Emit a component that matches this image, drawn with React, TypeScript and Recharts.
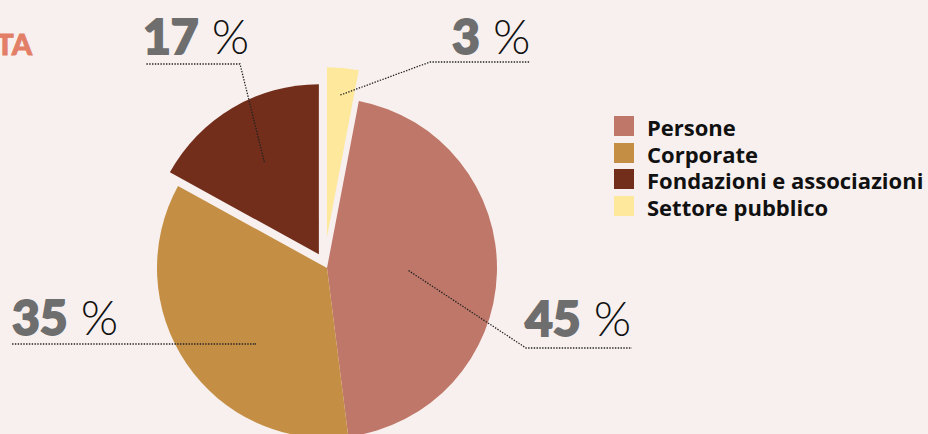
import { Cell, Legend, Pie, PieChart } from 'recharts';

// Ripartizione della raccolta per tipologia di donatore (%).
// Ordine delle fette in senso orario dalle ore 12.
const categories = ['Settore pubblico', 'Persone', 'Corporate', 'Fondazioni e associazioni'];
const shares = [3, 45, 35, 17];
const colors = ['#fde89c', '#bf7769', '#c48f45', '#722e1b'];
const legendOrder = ['Persone', 'Corporate', 'Fondazioni e associazioni', 'Settore pubblico'];

// quanto ogni fetta è staccata dal centro (px), più un piccolo aggiustamento orizzontale
const explode = [31, 0, 0, 16];
const nudgeX = [-3, 0, 0, 0];

// posizione delle etichette: ancora in coordinate polari della fetta, poi gomito e fine della linea
const labelLayout = [
  { r: 0.84, turn: 0, elbow: [430, 62], end: 530, tx: 452, ty: 54 },
  { r: 0.48, turn: 0, elbow: [526, 348], end: 632, tx: 525, ty: 336 },
  { r: 0.616, turn: 12.3, elbow: [256, 344], end: 11, tx: 12, ty: 335 },
  { r: 0.63, turn: 0, elbow: [240, 64], end: 145, tx: 143, ty: 54 },
];

const BG = '#f8f0ee';
const GREY = '#6e6e6e';
const CX = 327;
const CY = 268;
const R = 170;
const RAD = Math.PI / 180;

const data = categories.map((name, i) => ({ name, value: shares[i] }));
const total = shares.reduce((a, b) => a + b, 0);

function midAngleOf(i: number) {
  const before = shares.slice(0, i).reduce((a, b) => a + b, 0);
  return 90 - (360 * (before + shares[i] / 2)) / total;
}

function renderLabel(only: number) {
  return (props: any) => {
    const { cx, cy, midAngle, outerRadius, index, value } = props;
    if (index !== only) return null;
    const L = labelLayout[index];
    const a = (midAngle + L.turn) * RAD;
    const ax = cx + outerRadius * L.r * Math.cos(a);
    const ay = cy - outerRadius * L.r * Math.sin(a);
    const pts = `${ax},${ay} ${L.elbow[0]},${L.elbow[1]} ${L.end},${L.elbow[1]}`;
    return (
      <g>
        <polyline
          points={pts}
          fill="none"
          stroke="#222"
          strokeWidth={1.3}
          strokeDasharray="1.4 1.4"
        />
        <text x={L.tx} y={L.ty} fontSize={48} fontFamily="Lato, sans-serif">
          {/* cifre molto nere: bold + contorno dello stesso grigio */}
          <tspan fontWeight={900} fill={GREY} stroke={GREY} strokeWidth={1.8}>
            {value}
          </tspan>
          <tspan fontWeight={300} fill="#111">
            {' %'}
          </tspan>
        </text>
      </g>
    );
  };
}

function LegendBox() {
  return (
    <div style={{ fontFamily: "'Open Sans', sans-serif" }}>
      {legendOrder.map((name) => (
        <div key={name} style={{ position: 'relative', height: 26.5 }}>
          <div
            style={{
              position: 'absolute',
              left: 0,
              top: 0,
              width: 20,
              height: 20,
              background: colors[categories.indexOf(name)],
            }}
          />
          <div
            style={{
              position: 'absolute',
              left: 33,
              top: 0,
              fontSize: 22,
              lineHeight: '22px',
              fontWeight: 700,
              color: '#111',
              whiteSpace: 'nowrap',
            }}
          >
            {name}
          </div>
        </div>
      ))}
    </div>
  );
}

export default function App() {
  return (
    <div style={{ position: 'fixed', inset: 0, background: BG, overflow: 'hidden' }}>
      <svg width={928} height={434} style={{ position: 'absolute', left: 0, top: 0 }}>
        <text
          x={32}
          y={55}
          textAnchor="end"
          fontFamily="Lato, sans-serif"
          fontWeight={900}
          fontSize={29}
          fill="#e27f66"
          stroke="#e27f66"
          strokeWidth={0.8}
        >
          TA
        </text>
      </svg>
      <div style={{ position: 'absolute', left: 0, top: 0 }}>
        <PieChart width={928} height={434} margin={{ top: 0, right: 0, bottom: 0, left: 0 }}>
          {categories.map((name, k) => {
            const m = midAngleOf(k) * RAD;
            const dx = explode[k] * Math.cos(m) + nudgeX[k];
            const dy = -explode[k] * Math.sin(m);
            return (
              <Pie
                key={name}
                data={data}
                dataKey="value"
                nameKey="name"
                cx={CX + dx}
                cy={CY + dy}
                outerRadius={R}
                startAngle={90}
                endAngle={-270}
                stroke="none"
                labelLine={false}
                label={renderLabel(k)}
                isAnimationActive={false}
              >
                {data.map((d, i) => (
                  <Cell key={d.name} fill={i === k ? colors[i] : 'none'} />
                ))}
              </Pie>
            );
          })}
          <Legend
            layout="vertical"
            align="right"
            verticalAlign="top"
            content={() => <LegendBox />}
            wrapperStyle={{ left: 614, top: 116, width: 314 }}
          />
        </PieChart>
      </div>
    </div>
  );
}
